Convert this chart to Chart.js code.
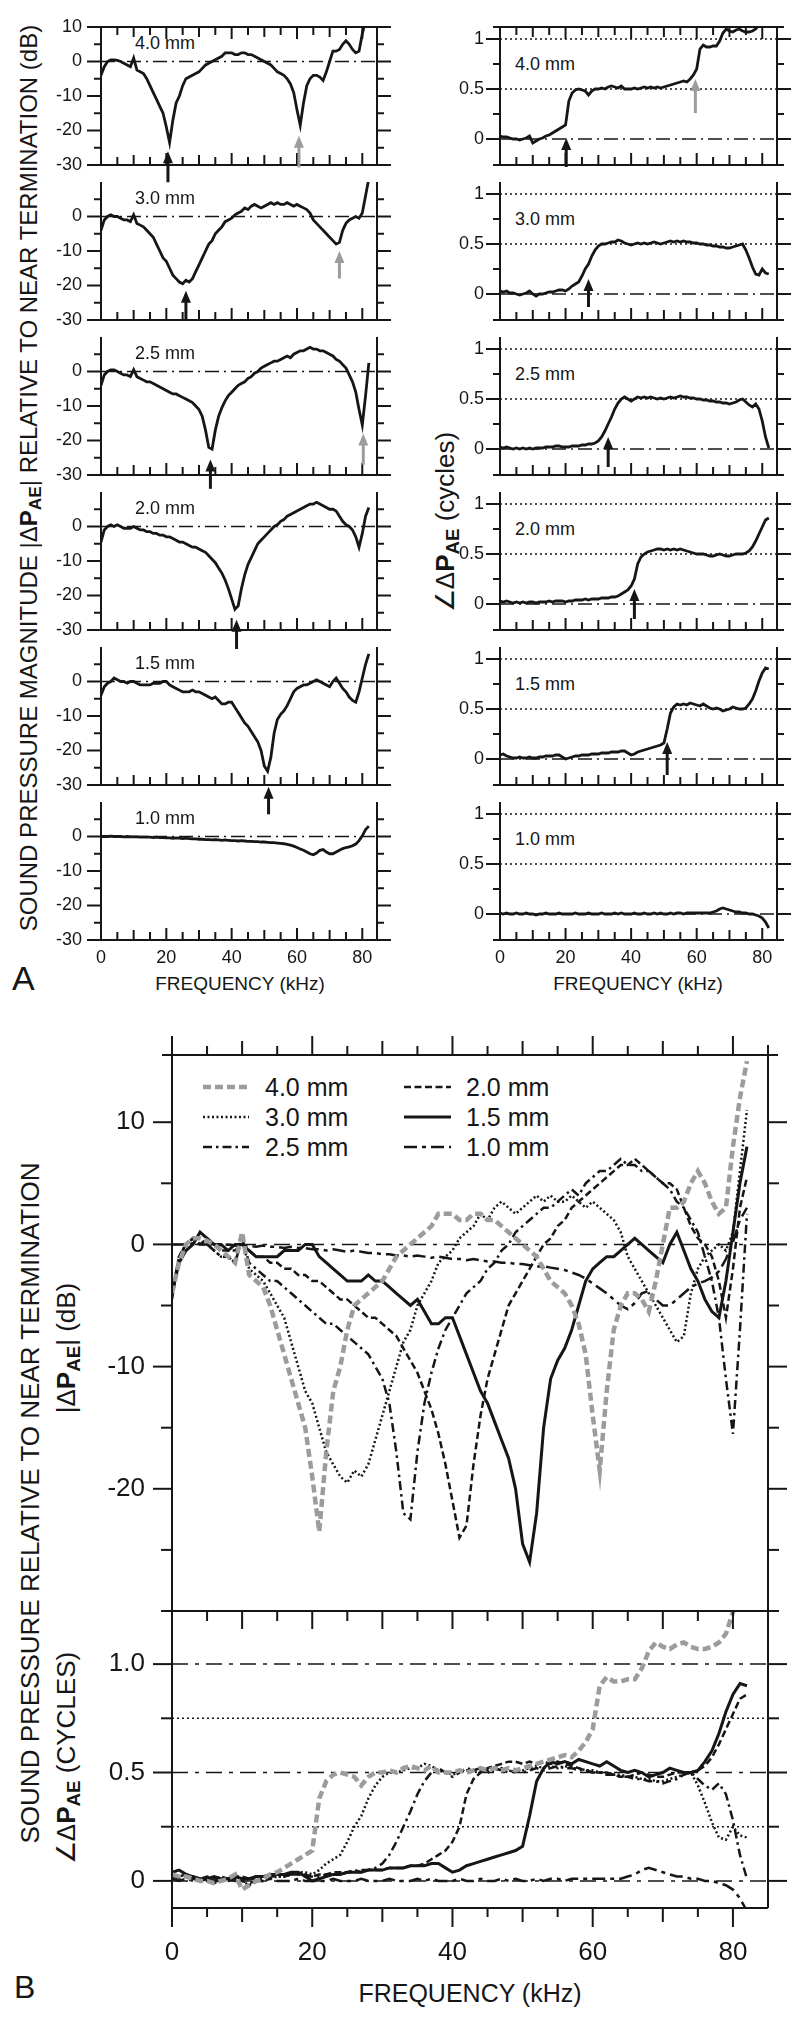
<!DOCTYPE html>
<html>
<head>
<meta charset="utf-8">
<title>Sound pressure relative to near termination</title>
<script src="https://cdn.jsdelivr.net/npm/chart.js@4.4.1/dist/chart.umd.min.js"></script>
<style>
  html, body { margin: 0; padding: 0; background: #fff; }
  body { position: relative; width: 800px; height: 2021px; overflow: hidden;
         font-family: "Liberation Sans", Arial, Helvetica, sans-serif; color: #161616; }
  canvas { position: absolute; }
  .txt { position: absolute; white-space: nowrap; line-height: 1; }
  .vert { transform: translate(-50%, -50%) rotate(-90deg); }
  .mid { transform: translate(-50%, -50%); }
  .lft { transform: translateY(-50%); }
  sub { font-size: 72%; vertical-align: -0.25em; line-height: 0; }
</style>
</head>
<body>

<!-- panel A titles -->
<div class="txt vert" style="left:29px; top:478px; font-size:24px;">SOUND PRESSURE MAGNITUDE |&Delta;<b>P<sub>AE</sub></b>| RELATIVE TO NEAR TERMINATION (dB)</div>
<div class="txt vert" style="left:445px; top:522px; font-size:26px;">&ang;&Delta;<b>P<sub>AE</sub></b> (cycles)</div>
<div class="txt mid" style="left:240px; top:983px; font-size:19px;">FREQUENCY (kHz)</div>
<div class="txt mid" style="left:638px; top:983px; font-size:19px;">FREQUENCY (kHz)</div>
<div class="txt lft" style="left:12px; top:978px; font-size:34px;">A</div>

<!-- panel B titles -->
<div class="txt vert" style="left:30px; top:1503px; font-size:26px;">SOUND PRESSURE RELATIVE TO NEAR TERMINATION</div>
<div class="txt vert" style="left:66px; top:1348px; font-size:26px;">|&Delta;<b>P<sub>AE</sub></b>| (dB)</div>
<div class="txt vert" style="left:66px; top:1758px; font-size:26px;">&ang;&Delta;<b>P<sub>AE</sub></b> (CYCLES)</div>
<div class="txt mid" style="left:470px; top:1993px; font-size:25px;">FREQUENCY (kHz)</div>
<div class="txt lft" style="left:14px; top:1987px; font-size:32px;">B</div>

<script>
// frequency grid (kHz), shared by every curve
const freqKHz = [0,1,2,3,4,5,6,7,8,9,10,11,12,13,14,15,16,17,18,19,20,21,22,23,24,25,26,27,28,29,
  30,31,32,33,34,35,36,37,38,39,40,41,42,43,44,45,46,47,48,49,50,51,52,53,54,55,56,57,58,59,
  60,61,62,63,64,65,66,67,68,69,70,71,72,73,74,75,76,77,78,79,80,81,82];

const gapLabels = ['4.0 mm', '3.0 mm', '2.5 mm', '2.0 mm', '1.5 mm', '1.0 mm'];

// |dP_AE| relative to near termination (dB)
const mag40 = [-4,-1.5,0,0.5,0.5,0.3,0,-0.5,-1,-1.5,
  1,-2.5,-3,-3.5,-5,-7,-9,-11,-13,-15,
  -19,-23.5,-17,-12,-10,-7,-5,-4.5,-4,-3.5,
  -3,-2,-1,-0.5,0,0.5,1,1.5,2.5,2.5,
  2.5,2,2,2.5,2.5,2,2,1.5,1,0.5,
  0,-0.5,-1,-2,-3,-3.5,-4,-5,-6.5,-9,
  -14,-18.5,-12,-7,-5,-4,-4,-4.5,-5.5,-3,
  0,3,3,3.5,5,6,5,3.5,2.5,3,
  8,12,15];
const mag30 = [-4,-1,0,0.5,0,0,-0.5,-1,-1,-1.5,
  0.5,-2,-2.5,-3,-4,-5,-6,-8,-10,-12,
  -13,-15,-17,-18,-19,-19.5,-18.5,-19,-18,-16,
  -14,-12,-10,-8,-7,-5,-4,-3,-1.5,-1,
  -0.5,0.5,1,1.5,2.5,2,3,3.5,3,2.5,
  3,3.5,4,3.5,4,3.5,3.5,4,3.5,3,
  3.5,3,2.5,2,1,-1,-2,-3,-4,-5,
  -6,-7,-8,-7.5,-4,-2,-1,-0.5,0,-0.5,
  1,6,11];
const mag25 = [-4,-1,0,0.5,0.5,0,-0.5,-1,-1,-1.5,
  0.5,-1.5,-2,-2.5,-3,-3,-3.5,-4,-4.5,-5,
  -5.5,-6,-6.5,-6.5,-7,-7.5,-8,-8.5,-9,-10,
  -11,-13,-17,-22,-22.5,-17,-13,-10.5,-8.5,-7,
  -6,-5,-4,-3.5,-3,-2,-1.5,-0.5,0,1,
  1.5,2,2.5,3,3,3.5,4,4.5,4,5,
  5.5,6,6,6.5,7,6.5,6.5,6,6,5.5,
  5,4.5,3.5,3,2,1,-1,-3,-6,-11,
  -15.5,-7,2.5];
const mag20 = [-4.5,-1,0,0.5,0,0.5,0,-0.5,-0.5,-0.5,
  0,-0.5,-1,-1,-1.5,-1.5,-2,-2,-2.5,-2.5,
  -3,-3,-3.5,-4,-4.5,-4.5,-5,-5.5,-6,-6,
  -6.5,-7,-7.5,-8.5,-9.5,-10.5,-12,-13.5,-15.5,-18,
  -21,-24,-23,-18,-14,-11,-9,-7,-5,-4,
  -3,-2,-1,0,0.5,1.5,2,3,3.5,4,
  4.5,5,5.5,6,6.5,6.5,7,6.5,6,5.5,
  5,5,4.5,3,1.5,0.5,0,-1,-3,-6,
  -2,3,5.5];
const mag15 = [-4,-1.5,-0.5,0,1,0.5,0,0,-0.5,0,
  0,-0.5,-1,-1,-1,-1,-0.5,-0.5,-0.5,0,
  0,-1,-1.5,-2,-2.5,-3,-3,-3,-2.5,-3,
  -3,-3.5,-4,-4.5,-5,-4.5,-5.5,-6.5,-6.5,-6,
  -6,-7.5,-9,-10.5,-12,-13,-14.5,-16,-17.5,-20,
  -24.5,-26,-22,-15,-11,-9.5,-8.5,-7,-5,-3,
  -2,-1.5,-1,-1,-0.5,0,0.5,0,-0.5,-1,
  -1.5,0,1,-0.5,-2,-3,-4.5,-5.5,-6,-3,
  1,5,8];
const mag10 = [0,0,0,0.1,0,0,0,-0.1,0,-0.1,
  -0.1,-0.1,-0.2,-0.1,-0.2,-0.2,-0.3,-0.2,-0.3,-0.3,
  -0.4,-0.4,-0.5,-0.4,-0.5,-0.6,-0.5,-0.6,-0.7,-0.7,
  -0.8,-0.8,-0.9,-0.9,-1,-0.9,-1,-1.1,-1,-1.1,
  -1.2,-1.2,-1.3,-1.2,-1.3,-1.4,-1.4,-1.5,-1.5,-1.6,
  -1.6,-1.7,-1.8,-1.8,-1.9,-2,-2.1,-2.3,-2.5,-2.8,
  -3.2,-3.6,-4,-4.5,-5,-5.3,-4.8,-4,-3.8,-4.5,
  -5,-5,-4.5,-4,-3.5,-3.2,-3,-2.7,-2.2,-1.2,
  0.2,2,3];

// angle of dP_AE (cycles)
const ph40 = [0.03,0.02,0.02,0.01,0,0,-0.01,0,0.01,0.03,
  -0.04,-0.02,0,0.01,0.03,0.04,0.06,0.08,0.1,0.12,
  0.14,0.38,0.46,0.49,0.5,0.49,0.48,0.44,0.48,0.5,
  0.5,0.51,0.5,0.52,0.53,0.52,0.51,0.53,0.5,0.5,
  0.5,0.51,0.5,0.51,0.52,0.51,0.52,0.51,0.52,0.51,
  0.52,0.53,0.54,0.55,0.56,0.57,0.58,0.57,0.6,0.64,
  0.7,0.9,0.94,0.92,0.92,0.93,0.93,0.98,1.06,1.1,
  1.08,1.07,1.09,1.1,1.08,1.07,1.07,1.08,1.1,1.14,
  1.24,1.3,1.35];
const ph30 = [0.03,0.02,0.03,0.01,0.01,0,-0.01,0,0.01,0.03,
  0,-0.02,0,0,0.01,0.02,0.02,0.03,0.04,0.04,
  0.03,0.05,0.08,0.1,0.12,0.18,0.25,0.3,0.38,0.44,
  0.48,0.5,0.5,0.51,0.52,0.52,0.54,0.53,0.51,0.5,
  0.49,0.5,0.51,0.5,0.51,0.5,0.51,0.52,0.51,0.5,
  0.51,0.52,0.53,0.52,0.53,0.52,0.53,0.52,0.52,0.51,
  0.51,0.5,0.5,0.49,0.49,0.48,0.48,0.47,0.47,0.46,
  0.46,0.47,0.48,0.49,0.5,0.44,0.36,0.27,0.2,0.19,
  0.25,0.21,0.2];
const ph25 = [0.02,0.01,0.02,0.01,0,0.01,0,0.01,0,0.01,
  0,0.01,0.01,0.01,0.02,0.02,0.02,0.03,0.03,0.02,
  0.02,0.02,0.03,0.03,0.03,0.04,0.04,0.05,0.05,0.06,
  0.08,0.12,0.18,0.25,0.32,0.4,0.46,0.5,0.52,0.5,
  0.48,0.5,0.52,0.51,0.52,0.51,0.52,0.51,0.5,0.51,
  0.5,0.51,0.52,0.51,0.52,0.53,0.52,0.52,0.51,0.51,
  0.5,0.5,0.49,0.49,0.48,0.48,0.47,0.47,0.46,0.46,
  0.45,0.46,0.47,0.49,0.5,0.47,0.44,0.42,0.45,0.4,
  0.28,0.12,0.01];
const ph20 = [0.03,0.02,0.03,0.02,0.01,0.02,0.01,0.02,0.01,0.02,
  0.02,0.01,0.02,0.02,0.02,0.03,0.02,0.03,0.03,0.03,
  0.02,0.03,0.03,0.04,0.04,0.04,0.05,0.04,0.05,0.05,
  0.05,0.06,0.06,0.06,0.07,0.07,0.08,0.1,0.12,0.14,
  0.18,0.25,0.4,0.47,0.5,0.52,0.53,0.54,0.55,0.55,
  0.54,0.55,0.54,0.55,0.54,0.55,0.54,0.53,0.52,0.51,
  0.5,0.5,0.5,0.49,0.48,0.48,0.49,0.5,0.49,0.48,
  0.48,0.49,0.5,0.5,0.5,0.51,0.53,0.57,0.63,0.7,
  0.77,0.84,0.86];
const ph15 = [0.04,0.05,0.03,0.02,0.01,0.01,0.02,0.01,0.01,0.02,
  0.01,0.01,0.02,0.02,0.03,0.03,0.03,0.04,0.04,0.02,
  0,0.01,0.02,0.03,0.03,0.04,0.04,0.04,0.05,0.05,
  0.05,0.06,0.06,0.06,0.07,0.07,0.07,0.08,0.08,0.06,
  0.04,0.05,0.07,0.08,0.09,0.1,0.11,0.12,0.13,0.14,
  0.16,0.3,0.46,0.52,0.55,0.54,0.55,0.54,0.56,0.55,
  0.54,0.53,0.55,0.53,0.51,0.5,0.51,0.5,0.48,0.49,
  0.5,0.52,0.51,0.5,0.5,0.51,0.55,0.6,0.68,0.78,
  0.86,0.91,0.9];
const ph10 = [0.01,0,0.01,0,0,0.01,0,0,0.01,0,
  0,-0.01,0,0,0.01,0,0,0,0.01,0,
  0,0,0,0.01,0,0,0,0.01,0,0,
  0,0.01,0,0,0,0.01,0,0.01,0,0,
  0,0.01,0,0,0.01,0,0,0.01,0,0.01,
  0,0,0.01,0,0.01,0.01,0,0.01,0.01,0.01,
  0.01,0.01,0.01,0.01,0.01,0.02,0.03,0.05,0.06,0.05,
  0.04,0.03,0.02,0.02,0.01,0.01,0,0,-0.01,-0.02,
  -0.04,-0.08,-0.14];

const magSeries = [mag40, mag30, mag25, mag20, mag15, mag10];
const phaseSeries = [ph40, ph30, ph25, ph20, ph15, ph10];

// tick labels
const magTickLabels = [-30, -20, -10, 0, 10];
const phaseTickLabels = [0, 0.5, 1];
const freqTickLabels = [0, 20, 40, 60, 80];
const bMagTickLabels = [-20, -10, 0, 10];
const bPhaseTickLabels = [0, 0.5, 1];

// notch arrows in panel A: [kHz, tip, tail, grey]
const magArrows = [
  [[20.5, -26, -35, 0], [60.6, -21.5, -30.7, 1]],
  [[26, -21.5, -30, 0], [73, -10, -18, 1]],
  [[33.5, -25.5, -34, 0], [80.3, -18, -27, 1]],
  [[41.5, -27, -35.5, 0]],
  [[51.3, -30.5, -38.5, 0]],
  []
];
const phaseArrows = [
  [[20.2, 0.01, -0.28, 0], [59.6, 0.6, 0.26, 1]],
  [[27, 0.15, -0.13, 0]],
  [[33, 0.12, -0.18, 0]],
  [[41, 0.15, -0.15, 0]],
  [[51, 0.17, -0.16, 0]],
  []
];

// legend layout in panel B (page px)
const legendRowY = [1087, 1117, 1147];
const legendColX = [[203, 249, 265], [404, 451, 466]];

const FONT = '"Liberation Sans", Arial, Helvetica, sans-serif';
const ink = '#161616';
const DASHDOT_A = [14, 5, 2, 5];
const DASHDOT_B = [16, 7, 4, 7];
const DOTS = [2, 3];

// line styles of the gaps in panel B
const bStyles = [
  { color: '#9c9c9c', width: 4.5, dash: [8, 4] },
  { color: ink, width: 2.5, dash: [2, 2.5] },
  { color: ink, width: 2.5, dash: [9, 4, 2.5, 4] },
  { color: ink, width: 2.5, dash: [7, 3.5] },
  { color: ink, width: 3, dash: [] },
  { color: ink, width: 2.5, dash: [13, 5, 4, 5] }
];

const frames = {};

function toPoints(ys) {
  return ys.map((y, i) => ({ x: freqKHz[i], y }));
}

function seg(ctx, x1, y1, x2, y2) {
  ctx.beginPath(); ctx.moveTo(x1, y1); ctx.lineTo(x2, y2); ctx.stroke();
}

const framePlugin = {
  id: 'frame',
  beforeDatasetsDraw(chart) {
    const f = frames[chart.canvas.id];
    const ctx = chart.ctx, a = chart.chartArea, ys = chart.scales.y;
    ctx.save();
    ctx.strokeStyle = ink; ctx.lineWidth = 1.5;
    f.refs.forEach(([v, dash]) => {
      const y = ys.getPixelForValue(v);
      ctx.setLineDash(dash);
      seg(ctx, a.left, y, a.right, y);
    });
    ctx.restore();
  },
  afterDatasetsDraw(chart) {
    const f = frames[chart.canvas.id];
    const ctx = chart.ctx, a = chart.chartArea, xs = chart.scales.x, ys = chart.scales.y;
    ctx.save();
    ctx.strokeStyle = ink; ctx.lineWidth = f.lw; ctx.setLineDash([]);
    // side axes
    seg(ctx, a.left, a.top - f.vTop, a.left, a.bottom);
    seg(ctx, a.right, a.top - f.vTop, a.right, a.bottom);
    // y ticks, outward on both sides
    for (let v = f.yt[0]; v <= f.yt[1] + 1e-6; v += f.yt[2]) {
      const y = ys.getPixelForValue(v);
      const len = f.yMajor.some(m => Math.abs(m - v) < 1e-6) ? f.yLen[0] : f.yLen[1];
      seg(ctx, a.left - len, y, a.left, y);
      seg(ctx, a.right, y, a.right + len, y);
    }
    // horizontal frame lines with frequency ticks
    f.hLines.forEach(h => {
      const y = h.top ? a.top : a.bottom;
      seg(ctx, a.left - h.ext, y, a.right + h.ext, y);
      for (let k = 0; k <= 80; k += 5) {
        const x = xs.getPixelForValue(k);
        const len = k % 20 === 0 ? h.len[0] : (k % 10 === 0 ? h.len[1] : h.len[2]);
        seg(ctx, x, y, x, y + h.dir * len);
      }
    });
    // notch arrows
    (f.arrows || []).forEach(([kx, tip, tail, grey]) => {
      const x = xs.getPixelForValue(kx), yT = ys.getPixelForValue(tip), yB = ys.getPixelForValue(tail);
      const col = grey ? '#9c9c9c' : ink;
      ctx.strokeStyle = col; ctx.fillStyle = col; ctx.lineWidth = 3;
      seg(ctx, x, yB, x, yT + 8);
      ctx.beginPath(); ctx.moveTo(x, yT); ctx.lineTo(x - 5, yT + 12); ctx.lineTo(x + 5, yT + 12);
      ctx.closePath(); ctx.fill();
    });
    // legend samples
    if (f.legend) {
      chart.data.datasets.forEach((ds, k) => {
        const col = legendColX[Math.floor(k / 3)], y = legendRowY[k % 3] - f.box.y;
        ctx.strokeStyle = ds.borderColor; ctx.lineWidth = ds.borderWidth;
        ctx.setLineDash(ds.borderDash);
        seg(ctx, col[0] - f.box.x, y, col[1] - f.box.x, y);
      });
    }
    ctx.restore();
  }
};

// axis whose box fills the margin, so the tick labels are not clipped
function axis(pos, spec, room) {
  return {
    type: 'linear', position: pos, min: spec.min, max: spec.max, bounds: 'data',
    grid: { display: false, drawTicks: false }, border: { display: false },
    afterBuildTicks: s => { s.ticks = spec.ticks.map(v => ({ value: v })); },
    afterFit: s => {
      if (pos === 'left') s.width = room; else s.height = room;
      s.paddingTop = 0; s.paddingBottom = 0; s.paddingLeft = 0; s.paddingRight = 0;
    },
    ticks: {
      display: spec.show, autoSkip: false, maxRotation: 0, minRotation: 0, padding: spec.pad, color: ink,
      font: { family: FONT, size: spec.size }, callback: spec.fmt || (v => String(v))
    }
  };
}

function panel(id, box, area, datasets, xSpec, ySpec, frame) {
  const cv = document.createElement('canvas');
  cv.id = id; cv.width = box.w; cv.height = box.h;
  cv.style.left = box.x + 'px'; cv.style.top = box.y + 'px';
  document.body.appendChild(cv);
  frames[id] = Object.assign({ box }, frame);
  const leftRoom = area.l - box.x, bottomRoom = box.y + box.h - area.b;
  return new Chart(cv, {
    type: 'line',
    data: { datasets },
    options: {
      responsive: false, animation: false, events: [], parsing: false,
      layout: { padding: { left: 0, top: area.t - box.y, right: box.x + box.w - area.r, bottom: 0 } },
      plugins: { legend: { display: false }, tooltip: { enabled: false } },
      elements: { point: { radius: 0 }, line: { tension: 0 } },
      scales: { x: axis('bottom', xSpec, bottomRoom), y: axis('left', ySpec, leftRoom) }
    },
    plugins: [framePlugin]
  });
}

function addText(text, x, cy, size) {
  const d = document.createElement('div');
  d.className = 'txt lft';
  d.style.left = x + 'px'; d.style.top = cy + 'px'; d.style.fontSize = size + 'px';
  d.textContent = text;
  document.body.appendChild(d);
}

// ---- panel A: one row per gap ----
for (let i = 0; i < 6; i++) {
  const top = 27 + 155 * i, bot = 165 + 155 * i, last = i === 5;
  const aLine = ys => ({ data: toPoints(ys), borderColor: ink, borderWidth: 2.8, borderDash: [] });
  const inTicks = [12, 10, 8];
  const xA = { min: 0, max: 84.5, ticks: freqTickLabels, show: last, size: 18, pad: 7 };

  addText(gapLabels[i], 135, 43 + 155 * i, 18);
  addText(gapLabels[i], 515, 64 + 155 * i, 18);

  const magLines = [{ top: false, ext: 0, dir: -1, len: inTicks }];
  if (i === 0) magLines.push({ top: true, ext: 0, dir: 1, len: inTicks });
  panel('magA' + i, { x: 40, y: 155 * i, w: 370, h: 200 }, { l: 101, t: top, r: 377, b: bot },
    [aLine(magSeries[i])], xA,
    { min: -30, max: 10, ticks: i === 0 ? magTickLabels : magTickLabels.slice(0, 4), show: true, size: 18, pad: 19 },
    { lw: 2, vTop: 0, yt: [-30, i === 0 ? 10 : 5, 5], yMajor: magTickLabels, yLen: [14, 7],
      hLines: magLines, refs: [[0, DASHDOT_A]], arrows: magArrows[i] });

  const phLines = [{ top: false, ext: 7, dir: -1, len: inTicks }];
  if (i === 0) phLines.push({ top: true, ext: 7, dir: 1, len: inTicks });
  panel('phA' + i, { x: 440, y: 155 * i, w: 360, h: 200 }, { l: 500, t: top, r: 777, b: bot },
    [aLine(phaseSeries[i])], xA,
    { min: -0.26, max: 1.12, ticks: phaseTickLabels, show: true, size: 18, pad: 16 },
    { lw: 2, vTop: 0, yt: [0, 1, 0.25], yMajor: phaseTickLabels, yLen: [14, 7],
      hLines: phLines, refs: [[1, DOTS], [0.5, DOTS], [0, DASHDOT_A]], arrows: phaseArrows[i] });
}

// ---- panel B: all gaps overlaid ----
const bLine = (ys, k) => ({ data: toPoints(ys), borderColor: bStyles[k].color,
  borderWidth: bStyles[k].width, borderDash: bStyles[k].dash });

gapLabels.forEach((g, k) => {
  addText(g, legendColX[Math.floor(k / 3)][2], legendRowY[k % 3], 25);
});

panel('magB', { x: 90, y: 1020, w: 710, h: 600 }, { l: 172, t: 1055, r: 768, b: 1611 },
  magSeries.map(bLine),
  { min: 0, max: 85, ticks: freqTickLabels, show: false, size: 26, pad: 0 },
  { min: -30, max: 15.5, ticks: bMagTickLabels, show: true, size: 26, pad: 27 },
  { lw: 2, vTop: 10, yt: [-30, 10, 5], yMajor: bMagTickLabels, yLen: [19, 11],
    hLines: [{ top: true, ext: 10, dir: -1, len: [19, 14, 9] }],
    refs: [[0, DASHDOT_B]], legend: true });

panel('phB', { x: 90, y: 1560, w: 710, h: 461 }, { l: 172, t: 1611, r: 768, b: 1908 },
  phaseSeries.map(bLine),
  { min: 0, max: 85, ticks: freqTickLabels, show: true, size: 26, pad: 29 },
  { min: -0.125, max: 1.245, ticks: bPhaseTickLabels, show: true, size: 26, pad: 27,
    fmt: v => (v === 1 ? '1.0' : String(v)) },
  { lw: 2, vTop: 0, yt: [0, 1, 0.25], yMajor: bPhaseTickLabels, yLen: [19, 11],
    hLines: [{ top: true, ext: 0, dir: 1, len: [18, 18, 10] }, { top: false, ext: 0, dir: 1, len: [19, 14, 9] }],
    refs: [[1, DASHDOT_B], [0.75, DOTS], [0.5, DASHDOT_B], [0.25, DOTS], [0, DASHDOT_B]] });
</script>
</body>
</html>
